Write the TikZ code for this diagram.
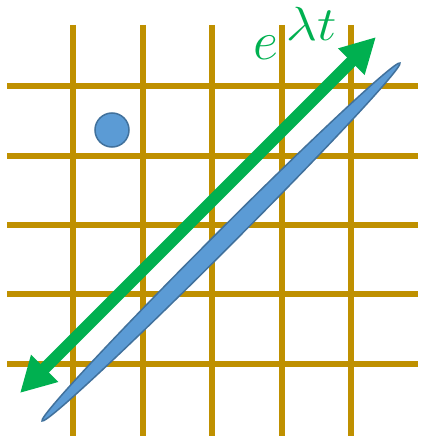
\documentclass[tikz,border=0pt]{standalone}
\usepackage{amsmath}
\usepackage{tikz}
\usetikzlibrary{arrows.meta, positioning, shapes.geometric}

\definecolor{gridgold}{RGB}{191,144,0}
\definecolor{flowgreen}{RGB}{0,176,80}
\definecolor{blobfill}{RGB}{91,155,213}
\definecolor{blobline}{RGB}{65,113,156}

\begin{document}
\begin{tikzpicture}[
  x=1pt, y=-1pt,
  gridline/.style={draw=gridgold, line width=6pt},
  blob/.style={draw=blobline, fill=blobfill, line width=1.5pt, inner sep=0pt},
  flow/.style={draw=flowgreen, line width=12pt,
               {Triangle[length=35pt, width=36pt]}-{Triangle[length=35pt, width=35pt]}},
  label/.style={text=flowgreen, font=\Huge, scale=2.2, inner sep=0pt}
]
  \useasboundingbox (0,0) rectangle (423,441);
  % grid
  \foreach \gx in {73,143,212,282,351}
    \draw[gridline] (\gx,25) -- (\gx,436);
  \foreach \gy in {86,156,225,294,364}
    \draw[gridline] (7,\gy) -- (418,\gy);

  \node[blob, circle, minimum size=34pt]                 (dot)   at (112,130) {};
  \node[blob, ellipse, minimum width=506pt, minimum height=18pt, rotate=45] (cloud) at (221,242) {};

  \coordinate (flowL) at (20,393);
  \coordinate (flowR) at (376,37);
  \draw[flow] (flowL) -- (flowR);

  \node[label, anchor=base west] (rate) at (253,60) {$e^{\mkern3mu\scalebox{1.2}[1.05]{$\scriptstyle\lambda t$}}$};
\end{tikzpicture}
\end{document}
